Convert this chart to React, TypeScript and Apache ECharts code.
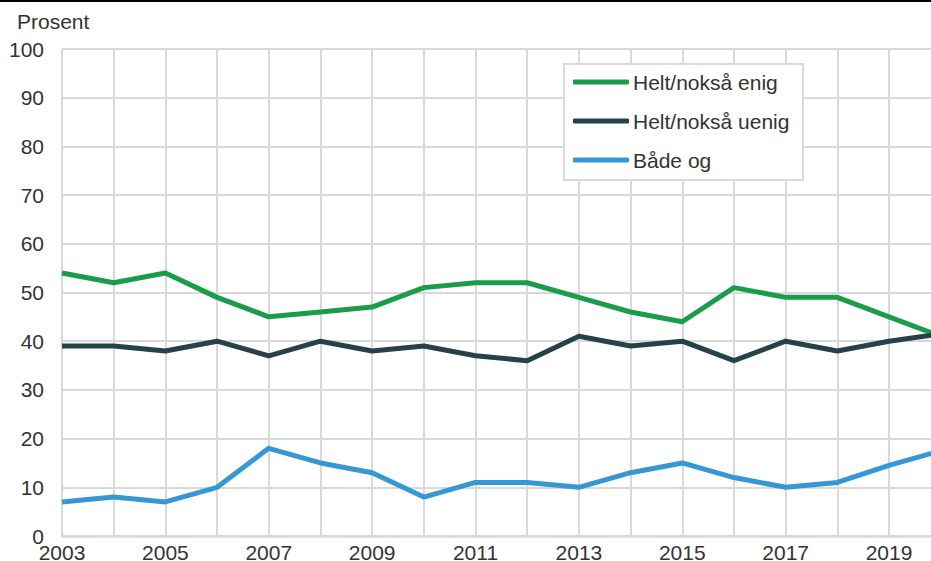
import React, { useEffect, useRef } from "react";
import * as echarts from "echarts";

const years = [2003, 2004, 2005, 2006, 2007, 2008, 2009, 2010, 2011, 2012, 2013, 2014, 2015, 2016, 2017, 2018, 2019, 2020];
const enig = [54, 52, 54, 49, 45, 46, 47, 51, 52, 52, 49, 46, 44, 51, 49, 49, 45, 41];
const uenig = [39, 39, 38, 40, 37, 40, 38, 39, 37, 36, 41, 39, 40, 36, 40, 38, 40, 41.5];
const badeOg = [7, 8, 7, 10, 18, 15, 13, 8, 11, 11, 10, 13, 15, 12, 10, 11, 14.5, 17.5];
const seriesNames = ["Helt/nokså enig", "Helt/nokså uenig", "Både og"];
const colors = ["#1a9c48", "#264248", "#3597d4"];

export default function App() {
  const ref = useRef<HTMLDivElement>(null);
  useEffect(() => {
    if (!ref.current) return;
    const chart = echarts.init(ref.current, null, { renderer: "svg" });
    const font = "'Liberation Sans', Arial, sans-serif";
    const mk = (vals: number[]) => years.map((y, i) => [y, vals[i]]);
    chart.setOption({
      animation: false,
      backgroundColor: "#ffffff",
      textStyle: { fontFamily: font },
      grid: { left: 62, width: 878.7, top: 49, bottom: 25, containLabel: false, outerBoundsMode: "none" },
      xAxis: {
        type: "value",
        min: 2003,
        max: 2020,
        interval: 1,
        axisLine: { show: true, lineStyle: { color: "#d9d9d9", width: 2.5 } },
        axisTick: { show: false },
        splitLine: { show: true, lineStyle: { color: "#d9d9d9", width: 2 } },
        axisLabel: {
          color: "#333333",
          fontSize: 21,
          lineHeight: 16,
          fontFamily: font,
          margin: 8,
          formatter: (v: number) => (v % 2 === 1 && v < 2020 ? String(v) : ""),
        },
      },
      yAxis: {
        type: "value",
        min: 0,
        max: 100,
        interval: 10,
        axisLine: { show: false },
        axisTick: { show: false },
        splitLine: { show: true, lineStyle: { color: "#d9d9d9", width: 2 } },
        axisLabel: { color: "#333333", fontSize: 21, fontFamily: font, margin: 18 },
      },
      legend: {
        orient: "vertical",
        left: 573,
        top: 71,
        itemWidth: 56,
        itemHeight: 5,
        itemGap: 17,
        icon: "roundRect",
        padding: 0,
        textStyle: { color: "#333333", fontSize: 21, fontFamily: font, lineHeight: 22, padding: [0, 0, 0, -1] },
        data: seriesNames,
      },
      graphic: [
        { type: "rect", left: 0, top: 0, shape: { width: 931, height: 2 }, style: { fill: "#000000" } },
        { type: "text", left: 17, top: 11, style: { text: "Prosent", fill: "#333333", fontSize: 21, fontFamily: font } },
        {
          type: "rect",
          left: 563,
          top: 63,
          z: 2,
          shape: { width: 239, height: 116 },
          style: { fill: "#ffffff", stroke: "#d9d9d9", lineWidth: 2 },
        },
      ],
      series: [enig, uenig, badeOg].map((vals, i) => ({
        name: seriesNames[i],
        type: "line",
        data: mk(vals),
        symbol: "none",
        clip: true,
        z: 3,
        lineStyle: { color: colors[i], width: 5, join: "round" },
        itemStyle: { color: colors[i] },
      })),
    });
    return () => chart.dispose();
  }, []);
  return <div ref={ref} style={{ position: "fixed", left: 0, top: 0, width: 931, height: 561 }} />;
}
